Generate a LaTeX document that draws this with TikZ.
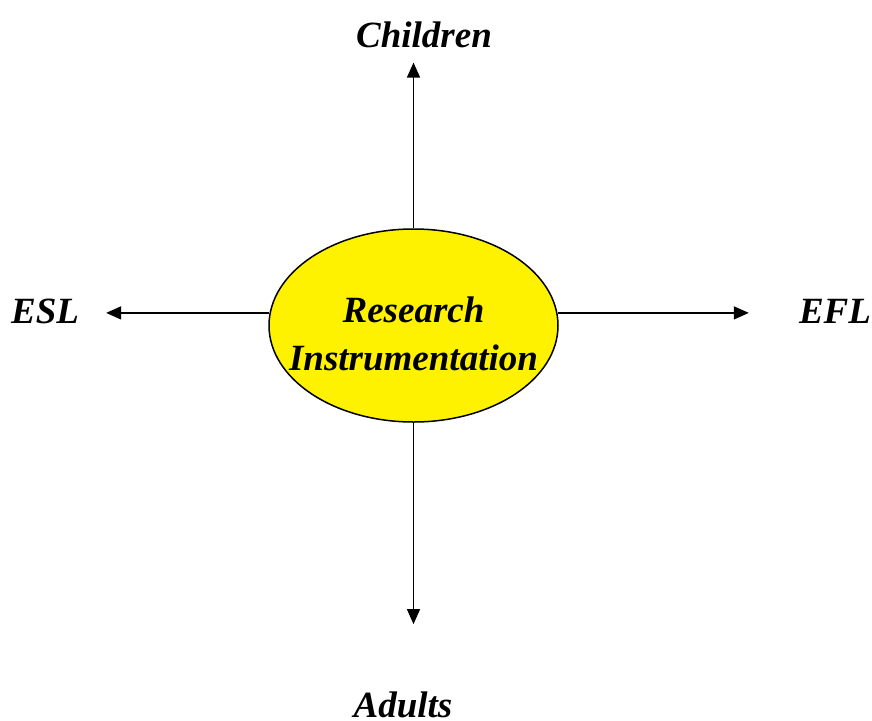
\documentclass[tikz,border=0pt]{standalone}
\usepackage{fontspec}
\setmainfont{Liberation Serif}
\usepackage{xcolor}
\usepackage{tikz}
\usetikzlibrary{arrows.meta,shapes.geometric}

\begin{document}
\begin{tikzpicture}[
      x=1pt, y=-1pt,
      oval/.style={
        draw,
        ellipse,
        fill=yellow,
        line width=1.5pt,
        inner sep=0pt,
        minimum width=289pt,
        minimum height=193pt
      },
      lbl/.style={
        inner sep=0pt,
        font=\fontsize{37}{48}\selectfont\bfseries\itshape
      },
      arr/.style={
        -{Triangle[length=15pt,width=13pt]},
        line width=1.5pt
      }
      ]
        \useasboundingbox (0,0) rectangle (872,720);

        \node[oval] (research) at (413.5,325.5) {};
        \node[lbl, align=center, anchor=base] (title) at (413.5,370) {Research\\Instrumentation};

        \node[lbl, anchor=base] (children) at (424,47) {Children};
        \node[lbl, anchor=base] (adults) at (403,717) {Adults};
        \node[lbl, anchor=base] (esl) at (45,323) {ESL};
        \node[lbl, anchor=base] (efl) at (835,323) {EFL};

        % arrows
        \draw[arr, shorten >=15pt] (research.north) -- (children.south -| research.north);
        \draw[arr, shorten >=67pt] (research.south) -- (adults.north -| research.south);
        \draw[arr, shorten >=27pt] (research.175) -- (research.175 -| esl.east);
        \draw[arr, shorten >=50pt] (research.5) -- (research.5 -| efl.west);
    \end{tikzpicture}
\end{document}
